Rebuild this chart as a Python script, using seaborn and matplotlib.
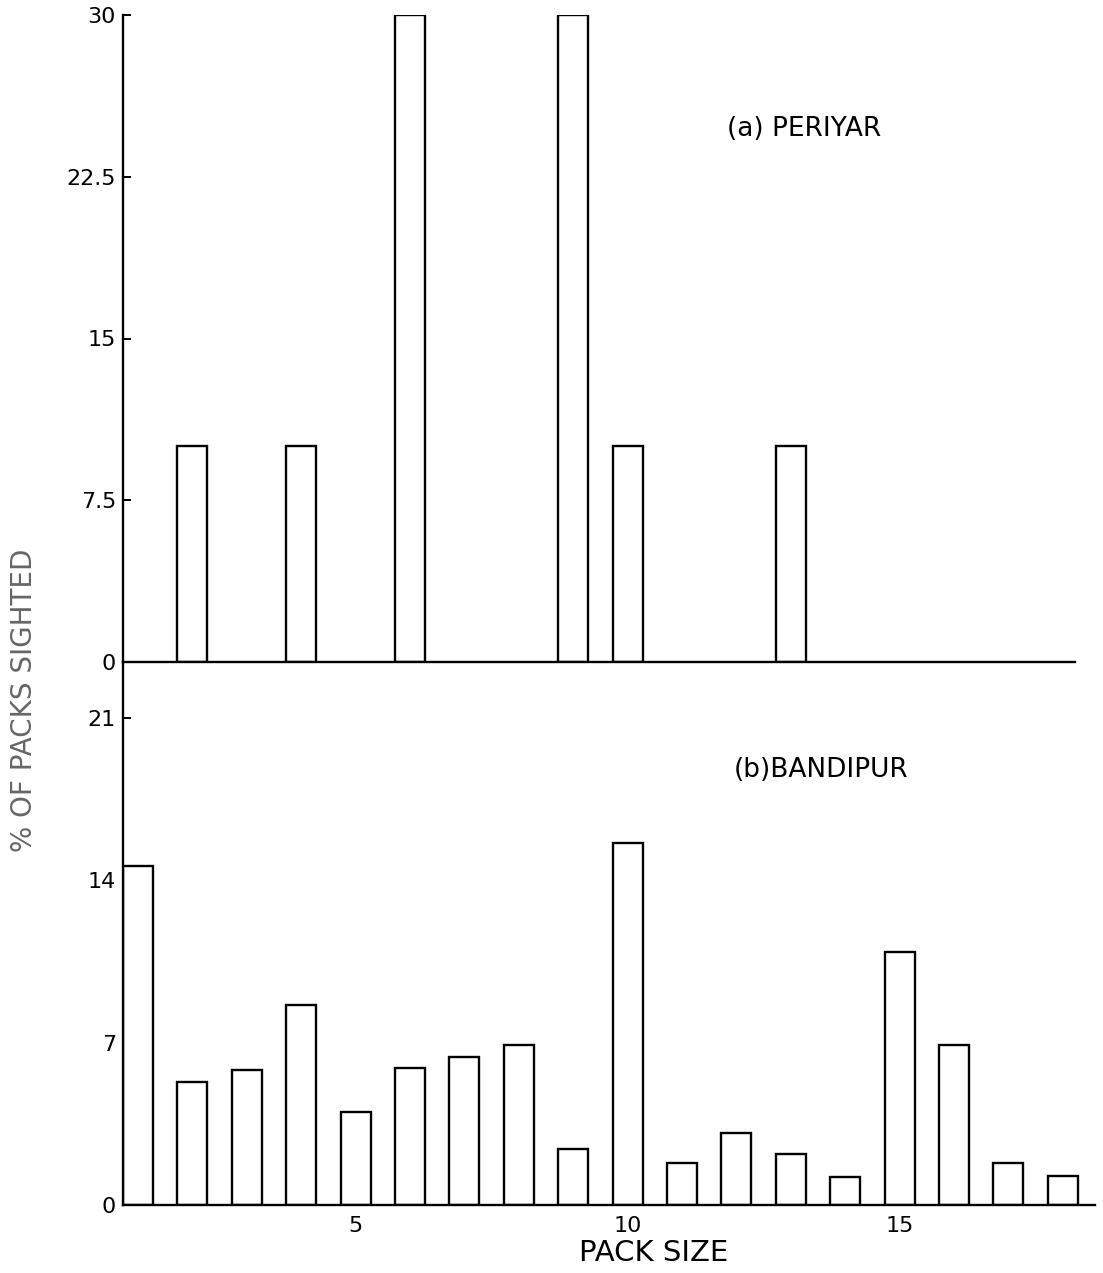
import matplotlib
matplotlib.use("Agg")
import matplotlib.pyplot as plt
import seaborn as sns
import pandas as pd

# ---- data ----
periyar_pack = [2, 4, 6, 9, 10, 13]
periyar_pct = [10, 10, 30, 30, 10, 10]

bandipur_pack = list(range(1, 19))
bandipur_pct = [14.6, 5.3, 5.8, 8.6, 4.0, 5.9, 6.4, 6.9, 2.4, 15.6,
                1.8, 3.1, 2.2, 1.2, 10.9, 6.9, 1.8, 1.25]

top_yticks = [0, 7.5, 15, 22.5, 30]
top_yticklabels = ["0", "7.5", "15", "22.5", "30"]
bot_yticks = [0, 7, 14, 21]
bot_yticklabels = ["0", "7", "14", "21"]
x_ticks = [5, 10, 15]
x_ticklabels = ["5", "10", "15"]

sns.set_theme(style="white")
plt.rcParams["font.family"] = ["DejaVu Sans"]

W, H = 1103, 1273
fig = plt.figure(figsize=(W / 100, H / 100), dpi=100)

def frac(x0, y0, x1, y1):
    return [x0 / W, 1 - y1 / H, (x1 - x0) / W, (y1 - y0) / H]

ax1 = fig.add_axes(frac(123, 15, 1075, 662))
ax2 = fig.add_axes(frac(123, 662, 1095, 1205))
ax1.set_zorder(2)
ax1.patch.set_alpha(0)
ax2.patch.set_alpha(0)

px_per_unit = 54.4
x_left = 1 - (138 - 123) / px_per_unit

df1 = pd.DataFrame({"pack": periyar_pack, "pct": periyar_pct})
df2 = pd.DataFrame({"pack": bandipur_pack, "pct": bandipur_pct})

for ax, df in ((ax1, df1), (ax2, df2)):
    sns.barplot(data=df, x="pack", y="pct", native_scale=True, ax=ax,
                color="white", edgecolor="black", linewidth=1.7,
                width=0.55, saturation=1)
    for s in ("top", "right"):
        ax.spines[s].set_visible(False)
    for s in ("left", "bottom"):
        ax.spines[s].set_color("black")
        ax.spines[s].set_linewidth(1.7)
    ax.set_xlabel("")
    ax.set_ylabel("")

ax1.set_xlim(x_left, 1 + (1075 - 138) / px_per_unit)
ax2.set_xlim(x_left, 1 + (1095 - 138) / px_per_unit)
ax1.set_ylim(0, 30)
ax2.set_ylim(0, (1205 - 662) / 23.2)

ax1.set_yticks(top_yticks)
ax1.set_yticklabels(top_yticklabels)
ax2.set_yticks(bot_yticks)
ax2.set_yticklabels(bot_yticklabels)

ax1.set_xticks(x_ticks)
ax1.set_xticklabels([])
ax1.tick_params(axis="x", direction="in", length=7, width=1.6, color="black")
ax2.set_xticks(x_ticks)
ax2.set_xticklabels(x_ticklabels)
ax2.tick_params(axis="x", length=0, pad=8, labelsize=16, labelcolor="black")

for ax in (ax1, ax2):
    ax.tick_params(axis="y", direction="in", length=6, width=1.4,
                   color="black", labelsize=16, labelcolor="black", pad=5,
                   left=True)

ax1.text(13.25, 24.7, "(a) PERIYAR", ha="center", va="center",
         fontsize=19, color="black")
ax2.text(13.55, 18.75, "(b)BANDIPUR", ha="center", va="center",
         fontsize=19, color="black")

fig.text(654 / W, 1 - 1253 / H, "PACK SIZE", ha="center", va="center",
         fontsize=21, color="black")
fig.text(24 / W, 1 - 700 / H, "% OF PACKS SIGHTED", rotation=90,
         ha="center", va="center", fontsize=20, color="#666666")

fig.savefig("out.png", dpi=100, facecolor="white")
